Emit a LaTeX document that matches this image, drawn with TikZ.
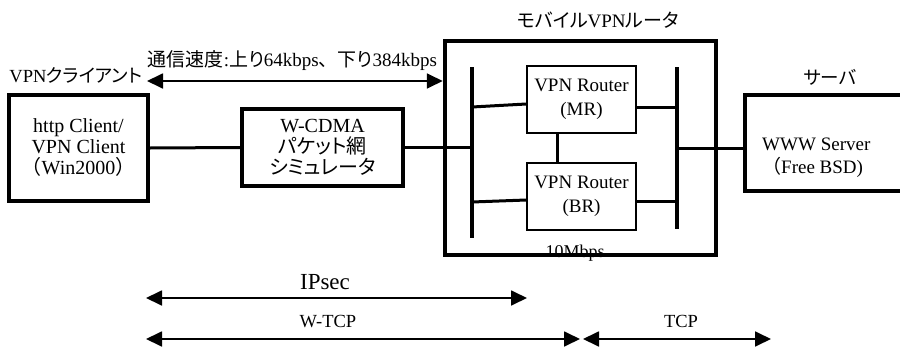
\documentclass[tikz,border=0pt]{standalone}
\usepackage{fontspec}
\setmainfont{Liberation Serif}
\newfontfamily\jp[RawFeature=+palt]{Noto Sans CJK JP}
\newfontfamily\jpw{Noto Sans CJK JP}
\usetikzlibrary{arrows.meta}
\newcommand\myfs[2]{\fontsize{#1}{#2}\selectfont}
\begin{document}
\begin{tikzpicture}[x=1pt,y=-1pt,
  box/.style={draw, rectangle, inner sep=0pt, align=center, line join=miter},
  thickbox/.style={box, line width=4pt},
  medbox/.style={box, line width=3.5pt},
  thinbox/.style={box, line width=1.5pt},
  bar/.style={line width=3.5pt},
  link/.style={line width=3pt},
  dim/.style={line width=1.8pt, {Triangle[length=16pt,width=15pt]}-{Triangle[length=16pt,width=15pt]}},
  txt/.style={inner sep=0pt, align=center}
]
\useasboundingbox (0,0) rectangle (900,348);

% client
\node[txt, font=\myfs{18.5}{20}] (cliL) at (76,75) {VPN{\jp クライアント}};
\node[thickbox, minimum width=139pt, minimum height=106pt, font=\myfs{20}{21}] (cli) at (78.5,148)
  {http Client/\\VPN Client\\{\jpw （}Win2000{\jpw ）}};

% W-CDMA
\node[medbox, minimum width=161pt, minimum height=77pt, font=\myfs{20}{21}] (wc) at (322.5,147.5)
  {W-CDMA\\{\jp パケット網}\\{\jp シミュレータ}};

% mobile VPN router
\node[txt, font=\myfs{19}{20}] (mvrL) at (598,20) {{\jp モバイル}VPN{\jp ルータ}};
\node[txt, anchor=base, font=\myfs{18}{20}] (mbps) at (575,257) {10Mbps};
\node[box, line width=4.5pt, minimum width=271pt, minimum height=214pt] (mvr) at (580.5,148) {};

\node[thinbox, minimum width=109pt, minimum height=67pt, font=\myfs{19}{24}] (mr) at (581.5,99.5) {VPN Router\\(MR)};
\node[thinbox, minimum width=109pt, minimum height=67pt, font=\myfs{19}{24}] (br) at (581.5,196.5) {VPN Router\\(BR)};

\coordinate (lbt) at (472,67);
\coordinate (lbb) at (472,238);
\coordinate (rbt) at (677,67);
\coordinate (rbb) at (677,229);
\draw[bar] (lbt) -- (lbb);
\draw[bar] (rbt) -- (rbb);

% server
\node[txt, font=\myfs{18.5}{20}] (srvL) at (830,77) {{\jp サーバ}};
\node[inner sep=0pt, minimum width=155pt, minimum height=96pt] (srv) at (822.5,143) {};
\node[txt, anchor=west, align=left, font=\myfs{19}{23}] (srvT) at (762,158)
  {WWW Server\\{\jpw （}Free BSD)};
\draw[line width=3.5pt, line join=miter] (srv.north east) -- (srv.north west) -- (srv.south west) -- (srv.south east);

% links
\draw[link] (cli.east) -- (wc.west);
\draw[link] (wc.east) -- (wc.east -| lbt);
\coordinate (mrW) at ([yshift=-4.5pt]mr.west);
\coordinate (brW) at ([yshift=-3.5pt]br.west);
\coordinate (mrE) at ([yshift=-7.5pt]mr.east);
\coordinate (brE) at ([yshift=-4.5pt]br.east);
\draw[link] (lbt |- 0,107) -- (mrW);
\draw[link] (lbt |- 0,202) -- (brW);
\draw[link] (mrE) -- (mrE -| rbt);
\draw[link] (brE) -- (brE -| rbt);
\draw[link] ([xshift=-24.5pt]mr.south) -- ([xshift=-24.5pt]br.north);
\coordinate (rm) at (677,148);
\draw[link] (rm) -- (rm -| srv.west);

% speed arrow
\coordinate (sa) at (147,81);
\draw[dim] (sa) -- (sa -| mvr.west);
\node[txt, font=\myfs{19}{20}] (speed) at (292.5,61)
  {{\jp 通信速度}:{\jp 上り}64kbps{\jpw 、}{\jp 下り}384kbps};

% bottom arrows
\coordinate (ip1) at (146,298);
\coordinate (ip2) at (527,298);
\coordinate (wt1) at (146,339);
\coordinate (wt2) at (580,339);
\coordinate (tc1) at (583,339);
\coordinate (tc2) at (771,339);
\draw[dim] (ip1) -- (ip2);
\draw[dim] (wt1) -- (wt2);
\draw[dim] (tc1) -- (tc2);
\node[txt, font=\myfs{23}{25}] (ipL) at (325,282) {IPsec};
\node[txt, font=\myfs{18.5}{20}] (wtL) at (328,322) {W-TCP};
\node[txt, font=\myfs{18.5}{20}] (tcL) at (681,321) {TCP};
\end{tikzpicture}
\end{document}
